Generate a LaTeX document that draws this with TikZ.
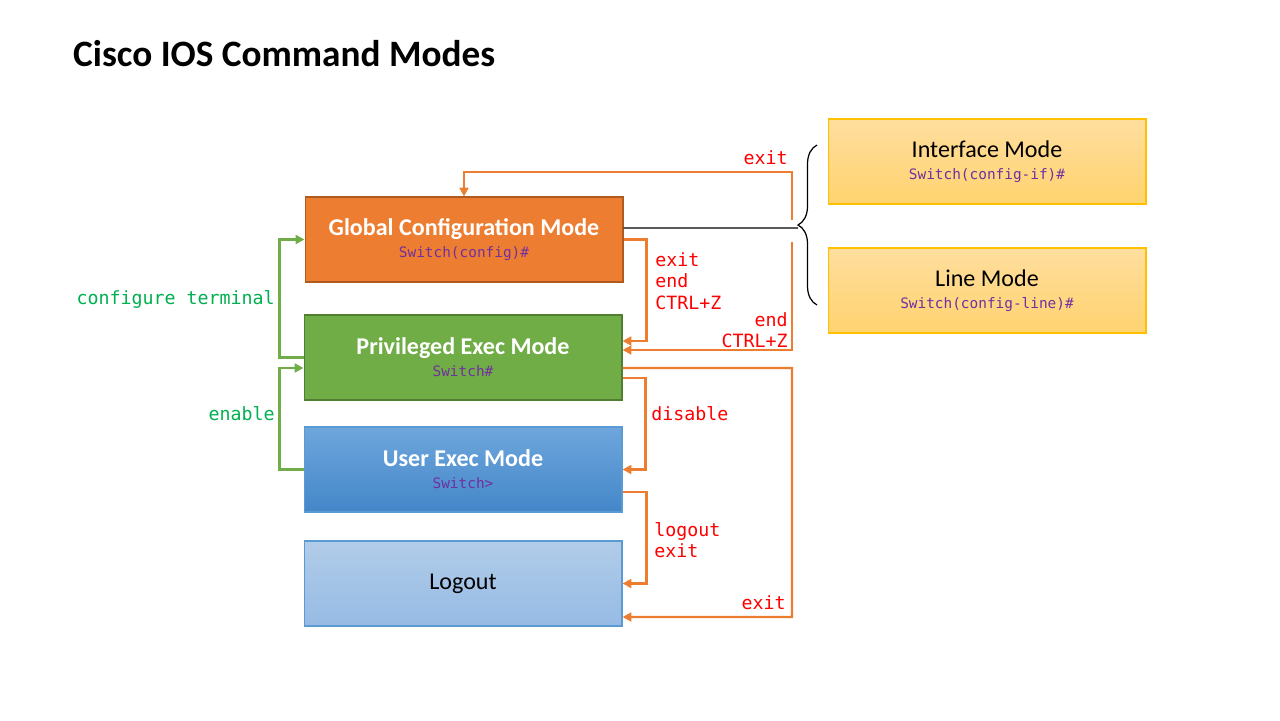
\documentclass[tikz,border=0pt]{standalone}
\usepackage{fontspec}
\setmainfont{Carlito}
\setmonofont{DejaVu Sans Mono}
\usetikzlibrary{arrows.meta,decorations.pathreplacing}
\definecolor{cfgOrange}{HTML}{ED7D31}
\definecolor{cfgOrangeDark}{HTML}{AE5A21}
\definecolor{privGreen}{HTML}{70AD47}
\definecolor{privGreenDark}{HTML}{507E32}
\definecolor{userBlue}{HTML}{5B9BD5}
\definecolor{userTop}{HTML}{6EA6DC}
\definecolor{userBottom}{HTML}{4487C9}
\definecolor{logoutTop}{HTML}{B1CCE9}
\definecolor{logoutBottom}{HTML}{96BBE4}
\definecolor{goldTop}{HTML}{FFDE9E}
\definecolor{goldBottom}{HTML}{FFD36F}
\definecolor{promptPurple}{HTML}{7030A0}
\definecolor{cmdRed}{HTML}{FF0000}
\definecolor{cmdGreen}{HTML}{00B050}
\definecolor{subGold}{HTML}{FFC000}
\newcommand{\prompt}[1]{{\ttfamily\fontsize{8.2}{10}\selectfont\color{promptPurple}#1}}
\begin{document}
\begin{tikzpicture}[x=0.02cm,y=-0.02cm,
    mode/.style={minimum width=6.36cm,minimum height=1.7cm,inner sep=0pt,align=center,
      line width=0.6pt,font=\fontsize{13.7}{14}\selectfont},
    oline/.style={draw=cfgOrange,line width=1.3pt,-{Triangle[length=5pt,width=5pt]}},
    gline/.style={draw=privGreen,line width=1.3pt,-{Triangle[length=5pt,width=5pt]}},
    redcmd/.style={text=cmdRed,font=\ttfamily\fontsize{10.4}{12.2}\selectfont,align=left,inner sep=0pt},
    greencmd/.style={text=cmdGreen,font=\ttfamily\fontsize{10.4}{12.2}\selectfont,inner sep=0pt}]
    \useasboundingbox (0,0) rectangle (1280,720);

    \node[anchor=west,font=\bfseries\fontsize{21.2}{24}\selectfont] (title) at (67,54) {Cisco IOS Command Modes};

    \node[mode,fill=cfgOrange,draw=cfgOrangeDark,text=white] (global) at (464,239.5)
        {\textbf{Global Configuration Mode}\\[-1.5pt]\prompt{Switch(config)\#}};
    \node[mode,fill=privGreen,draw=privGreenDark,text=white] (priv) at (463,357.5)
        {\textbf{Privileged Exec Mode}\\[-1.5pt]\prompt{Switch\#}};
    \node[mode,top color=userTop,bottom color=userBottom,draw=userBlue,text=white] (user) at (463,469.5)
        {\textbf{User Exec Mode}\\[-1.5pt]\prompt{Switch>}};
    \node[mode,top color=logoutTop,bottom color=logoutBottom,draw=userBlue] (logout) at (463,583.5) {Logout};
    \node[mode,top color=goldTop,bottom color=goldBottom,draw=subGold] (iface) at (987,161.5)
        {Interface Mode\\[-1.5pt]\prompt{Switch(config-if)\#}};
    \node[mode,top color=goldTop,bottom color=goldBottom,draw=subGold] (line) at (987,290.5)
        {Line Mode\\[-1.5pt]\prompt{Switch(config-line)\#}};

    \coordinate (braceTip) at (798,228);
    \coordinate (exitTop) at (792,220);
    \coordinate (endTop) at (792,242);
    \draw[line width=0.7pt,decorate,decoration={brace,amplitude=0.38cm}] (817,305) -- (817,145);
    \draw[line width=0.7pt] ([yshift=0.23cm]global.east) -- (braceTip);

    \draw[gline] (priv.west) -- ++(-24,0) |- (global.west);
    \draw[gline] (user.west) -- ++(-24,0) |- ([yshift=-0.21cm]priv.west);
    \node[greencmd,anchor=east] (confT) at (275,299) {configure terminal};
    \node[greencmd,anchor=east] (enable) at (275,414) {enable};

    \draw[oline] (global.east) -- ++(23,0) |- ([yshift=0.33cm]priv.east);
    \draw[oline] (exitTop) -- ++(0,-48) -| (global.north);
    \draw[oline] (endTop) |- ([yshift=0.15cm]priv.east);
    \draw[oline] ([yshift=-0.41cm]priv.east) -- ++(23,0) |- (user.east);
    \draw[oline] ([yshift=-0.45cm]user.east) -- ++(24,0) |- (logout.east);
    \draw[oline] ([yshift=-0.21cm]priv.east) -- (792,368) |- ([yshift=-0.67cm]logout.east);

    \node[redcmd,anchor=west] (exitEnd) at (655,281) {exit\\end\\CTRL+Z};
    \node[redcmd,anchor=east] (exitSub) at (788,158) {exit};
    \node[redcmd,anchor=east,align=right] (endSub) at (788,330) {end\\CTRL+Z};
    \node[redcmd,anchor=west] (disable) at (651,414) {disable};
    \node[redcmd,anchor=west] (logoutCmd) at (654,540) {logout\\exit};
    \node[redcmd,anchor=east] (exitPriv) at (786,603) {exit};
\end{tikzpicture}
\end{document}
